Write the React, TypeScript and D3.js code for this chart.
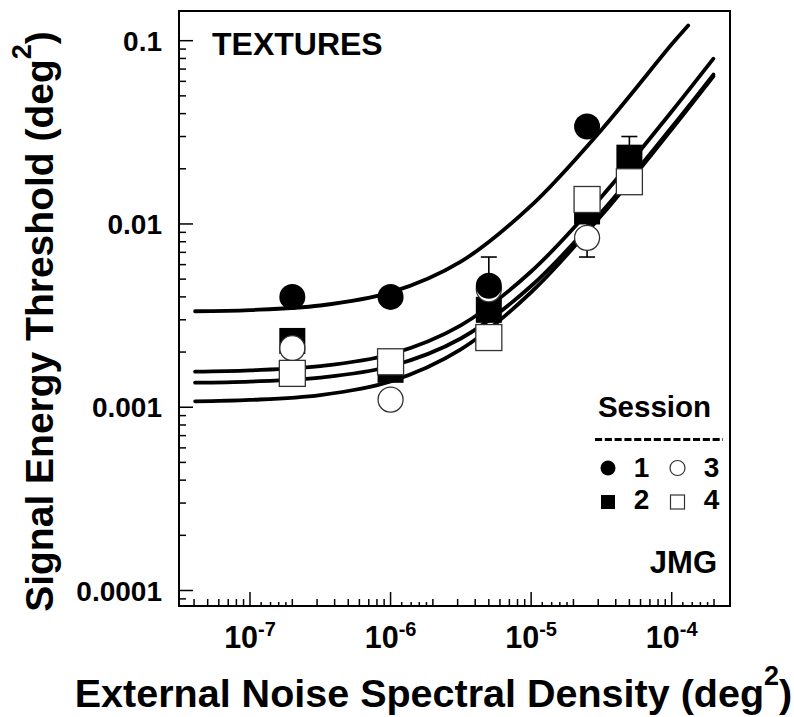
import React from 'react';
import * as d3 from 'd3';

// ---- Data ----
const noiseLevels = [2e-7, 1e-6, 5e-6, 2.5e-5, 5e-5];
const session1 = [0.004, 0.004, 0.0046, 0.034, null];
const session2 = [0.0023, 0.0016, 0.0034, 0.0117, 0.023];
const session3 = [0.0021, 0.0011, 0.0044, 0.0084, 0.017];
const session4 = [0.00153, 0.00177, 0.0024, 0.0136, 0.017];

const errNoise = [5e-6, 2.5e-5, 5e-5];
const errLow = [0.0032, 0.0066, 0.0176];
const errHigh = [0.0066, 0.0107, 0.03];

// fitted curves
const fitTopX = [4.07e-8, 1e-7, 3.16e-7, 1e-6, 3.16e-6, 1e-5, 3.16e-5, 1e-4, 1.31e-4];
const fitTopY = [0.00334, 0.00339, 0.00359, 0.00423, 0.00623, 0.01259, 0.0326, 0.0955, 0.121];
const fitLowX = [4.07e-8, 1e-7, 3.16e-7, 1e-6, 3.16e-6, 1e-5, 3.16e-5, 1e-4, 1.98e-4];
const fitAY = [0.001564, 0.001589, 0.001675, 0.001945, 0.002799, 0.005504, 0.01405, 0.04111, 0.0798];
const fitBY = [0.001362, 0.001381, 0.001451, 0.001673, 0.002372, 0.004585, 0.01158, 0.03372, 0.06533];
const fitCY = [0.001077, 0.001096, 0.001165, 0.001382, 0.002068, 0.00424, 0.01111, 0.03284, 0.06385];

const yTickValues = [0.0001, 0.001, 0.01, 0.1];
const yTickLabels = ['0.0001', '0.001', '0.01', '0.1'];
const xTickValues = [1e-7, 1e-6, 1e-5, 1e-4];
const xTickExponents = ['-7', '-6', '-5', '-4'];
const subMinorMultiples = [1.2, 1.4, 1.6, 1.8];
const legendLabels = ['1', '2', '3', '4'];

const FONT = '"Liberation Sans", Arial, Helvetica, sans-serif';

export default function App() {
  const W = 794, H = 717;
  const L = 179, R = 730, T = 11, B = 606;
  const x = d3.scaleLog().domain([Math.pow(10, -7.5051), Math.pow(10, -3.5853)]).range([L, R]);
  const y = d3.scaleLog().domain([Math.pow(10, -4.0846), Math.pow(10, -0.838)]).range([B, T]);

  const xMinor = x.ticks().filter(v => !xTickValues.some(m => Math.abs(m - v) / m < 1e-6));
  const xSub: number[] = [];
  for (let e = -8; e <= -4; e++) {
    subMinorMultiples.forEach(m => {
      const v = m * Math.pow(10, e);
      const px = x(v);
      if (px > L + 1 && px < R - 1) xSub.push(v);
    });
  }
  const yMinor = y.ticks().filter(v => !yTickValues.some(m => Math.abs(m - v) / m < 1e-6));

  const line = d3.line<[number, number]>().x(d => x(d[0])).y(d => y(d[1])).curve(d3.curveCatmullRom);
  const fits = [
    fitTopX.map((v, i) => [v, fitTopY[i]] as [number, number]),
    fitLowX.map((v, i) => [v, fitAY[i]] as [number, number]),
    fitLowX.map((v, i) => [v, fitBY[i]] as [number, number]),
    fitLowX.map((v, i) => [v, fitCY[i]] as [number, number]),
  ];

  const rC = 13, sq = 26;
  const pts = (arr: (number | null)[]) =>
    noiseLevels.map((v, i) => ({ v, t: arr[i] })).filter(d => d.t != null) as { v: number; t: number }[];

  const circle = (arr: (number | null)[], filled: boolean, key: string) =>
    pts(arr).map((d, i) => (
      <circle key={key + i} cx={x(d.v)} cy={y(d.t)} r={filled ? rC : rC - 0.5}
        fill={filled ? '#000' : '#fff'} stroke={filled ? 'none' : '#333'} strokeWidth={1.3} />
    ));
  const square = (arr: (number | null)[], filled: boolean, key: string) =>
    pts(arr).map((d, i) => (
      <rect key={key + i} x={x(d.v) - sq / 2} y={y(d.t) - sq / 2} width={sq} height={sq}
        fill={filled ? '#000' : '#fff'} stroke={filled ? 'none' : '#333'} strokeWidth={1.3} />
    ));

  const capW = 16;

  return (
    <svg width={W} height={H} viewBox={`0 0 ${W} ${H}`}
      style={{ position: 'absolute', left: 0, top: 0, display: 'block', background: '#fff' }}
      fontFamily={FONT} fontWeight="bold">
      <rect x={0} y={0} width={W} height={H} fill="#fff" />

      {/* curves */}
      {fits.map((f, i) => (
        <path key={'fit' + i} d={line(f) || ''} fill="none" stroke="#000" strokeWidth={3.8} strokeLinecap="round" />
      ))}

      {/* error bars */}
      {errNoise.map((v, i) => {
        const cx = x(v);
        return (
          <g key={'eb' + i} stroke="#000" strokeWidth={1.6}>
            <line x1={cx} x2={cx} y1={y(errLow[i])} y2={y(errHigh[i])} />
            <line x1={cx - capW / 2} x2={cx + capW / 2} y1={y(errHigh[i])} y2={y(errHigh[i])} />
            <line x1={cx - capW / 2} x2={cx + capW / 2} y1={y(errLow[i])} y2={y(errLow[i])} />
          </g>
        );
      })}

      {/* markers */}
      {square(session2, true, 's2')}
      {circle(session3, false, 's3')}
      {circle(session1, true, 's1')}
      {square(session4, false, 's4')}

      {/* frame */}
      <rect x={L} y={T} width={R - L} height={B - T} fill="none" stroke="#000" strokeWidth={2} />

      {/* ticks */}
      <g stroke="#000" strokeWidth={1.5}>
        {yTickValues.map((v, i) => <line key={'ym' + i} x1={L} x2={L + 14} y1={y(v)} y2={y(v)} />)}
        {yMinor.map((v, i) => <line key={'yn' + i} x1={L} x2={L + 7} y1={y(v)} y2={y(v)} />)}
        {xTickValues.map((v, i) => <line key={'xm' + i} x1={x(v)} x2={x(v)} y1={B} y2={B - 14} />)}
        {xMinor.map((v, i) => <line key={'xn' + i} x1={x(v)} x2={x(v)} y1={B} y2={B - 7} />)}
        {xSub.map((v, i) => <line key={'xs' + i} x1={x(v)} x2={x(v)} y1={B} y2={B - 4} />)}
      </g>

      {/* y tick labels */}
      {yTickValues.map((v, i) => (
        <text key={'yl' + i} x={162} y={y(v)} dy="0.36em" textAnchor="end" fontSize={28}>{yTickLabels[i]}</text>
      ))}
      {/* x tick labels */}
      {xTickValues.map((v, i) => (
        <text key={'xl' + i} x={x(v)} y={648} textAnchor="middle" fontSize={30.5}>
          10<tspan fontSize={20} dy={-12}>{xTickExponents[i]}</tspan>
        </text>
      ))}

      {/* axis titles */}
      <text x={433.5} y={707} textAnchor="middle" fontSize={39.5}>
        External Noise Spectral Density (deg<tspan fontSize={27} dy={-22}>2</tspan><tspan dy={22}>)</tspan>
      </text>
      <text transform="translate(53,321.5) rotate(-90)" textAnchor="middle" fontSize={39}>
        Signal Energy Threshold (deg<tspan fontSize={27} dy={-22}>2</tspan><tspan dy={22}>)</tspan>
      </text>

      {/* annotations */}
      <text x={212} y={55} fontSize={32}>TEXTURES</text>
      <text x={717} y={573} textAnchor="end" fontSize={31}>JMG</text>

      {/* legend */}
      <text x={654.5} y={417} textAnchor="middle" fontSize={29.5}>Session</text>
      <line x1={595} x2={723} y1={439.5} y2={439.5} stroke="#000" strokeWidth={3} strokeDasharray="7.1 2.7" />
      <circle cx={608} cy={468} r={7.5} fill="#000" />
      <text x={641.5} y={477} textAnchor="middle" fontSize={28}>{legendLabels[0]}</text>
      <circle cx={677.5} cy={468} r={7.5} fill="#fff" stroke="#333" strokeWidth={1.2} />
      <text x={711.5} y={477} textAnchor="middle" fontSize={28}>{legendLabels[2]}</text>
      <rect x={608 - 7} y={502 - 7} width={14} height={14} fill="#000" />
      <text x={641.5} y={508.5} textAnchor="middle" fontSize={28}>{legendLabels[1]}</text>
      <rect x={677.5 - 7} y={502 - 7} width={14} height={14} fill="#fff" stroke="#333" strokeWidth={1.2} />
      <text x={711.5} y={508.5} textAnchor="middle" fontSize={28}>{legendLabels[3]}</text>
    </svg>
  );
}
